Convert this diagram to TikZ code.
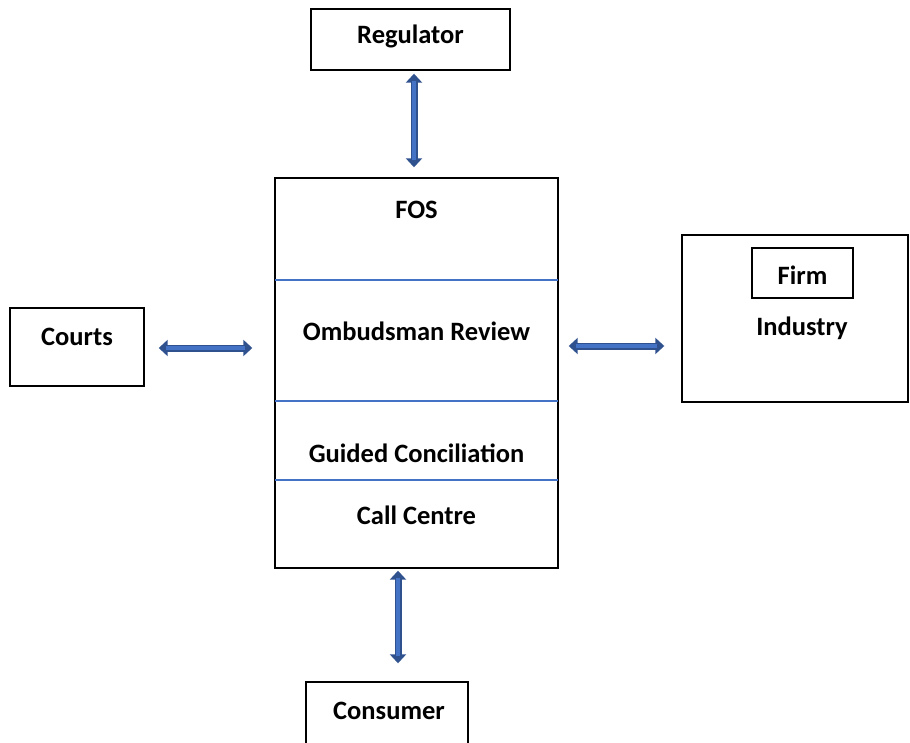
\documentclass[tikz,border=0pt]{standalone}
\usepackage{fontspec}
\setmainfont{Carlito}
\usetikzlibrary{arrows.meta}
\definecolor{arrfill}{RGB}{68,114,196}
\definecolor{arrdark}{RGB}{47,82,143}
\definecolor{sepline}{RGB}{68,114,196}
\tikzset{
  box/.style={draw=black, line width=1.4pt, inner sep=0pt},
  lbl/.style={font=\fontsize{26.5}{30}\selectfont\bfseries, inner sep=0pt},
  biarrow/.style={draw=arrdark, line width=7pt,
     {Triangle[width=16pt,length=9pt]}-{Triangle[width=16pt,length=9pt]}},
  biarrowin/.style={draw=arrfill, line width=3.5pt},
}
\begin{document}
\begin{tikzpicture}[x=1pt,y=1pt]
\useasboundingbox (0,0) rectangle (910,-743);
% boxes
\node[box, minimum width=199pt, minimum height=61pt] (reg) at (410.5,-39.5) {};
\node[lbl] (regt) at (410.5,-36) {Regulator};
\node[box, minimum width=283pt, minimum height=390pt] (fos) at (416.5,-373) {};
\node[box, minimum width=134pt, minimum height=78pt] (courts) at (77,-347) {};
\node[lbl] (courtst) at (77,-337) {Courts};
\node[box, minimum width=226pt, minimum height=167pt] (ind) at (795,-318.5) {};
\node[box, minimum width=101pt, minimum height=50pt] (firm) at (802.5,-273) {};
\node[lbl] (firmt) at (802.5,-275) {Firm};
\node[lbl] (indt) at (802,-328) {Industry};
\node[box, minimum width=162pt, minimum height=80pt] (cons) at (387,-722) {};
\node[lbl] (const) at (389,-711) {Consumer};
% FOS sections
\coordinate (s1) at (275,-280); \coordinate (s1e) at (558,-280);
\coordinate (s2) at (275,-401); \coordinate (s2e) at (558,-401);
\coordinate (s3) at (275,-480); \coordinate (s3e) at (558,-480);
\draw[sepline, line width=1.1pt] (s1) -- (s1e);
\draw[sepline, line width=1.1pt] (s2) -- (s2e);
\draw[sepline, line width=1.1pt] (s3) -- (s3e);
\node[lbl] (fost) at (416.5,-210) {FOS};
\node[lbl] (ombt) at (416.5,-331) {Ombudsman Review};
\node[lbl] (gct) at (416.5,-453) {Guided Conciliation};
\node[lbl] (cct) at (416.5,-515) {Call Centre};
% arrows
\draw[biarrow] ([xshift=3.5pt,yshift=-3pt]reg.south) -- ([xshift=-2.5pt,yshift=10pt]fos.north);
\draw[biarrowin] ([xshift=3.5pt,yshift=-10pt]reg.south) -- ([xshift=-2.5pt,yshift=17pt]fos.north);
\draw[biarrow] ([xshift=14pt,yshift=-1pt]courts.east) -- ([xshift=-22pt,yshift=-1pt]courts.east -| fos.west);
\draw[biarrowin] ([xshift=21pt,yshift=-1pt]courts.east) -- ([xshift=-29pt,yshift=-1pt]courts.east -| fos.west);
\draw[biarrow] ([xshift=10pt,yshift=27pt]fos.east) -- ([xshift=-17pt,yshift=-27.5pt]ind.west);
\draw[biarrowin] ([xshift=17pt,yshift=27pt]fos.east) -- ([xshift=-24pt,yshift=-27.5pt]ind.west);
\draw[biarrow] ([xshift=-18.5pt,yshift=-2pt]fos.south) -- ([xshift=11pt,yshift=18pt]cons.north);
\draw[biarrowin] ([xshift=-18.5pt,yshift=-9pt]fos.south) -- ([xshift=11pt,yshift=25pt]cons.north);
\end{tikzpicture}
\end{document}
